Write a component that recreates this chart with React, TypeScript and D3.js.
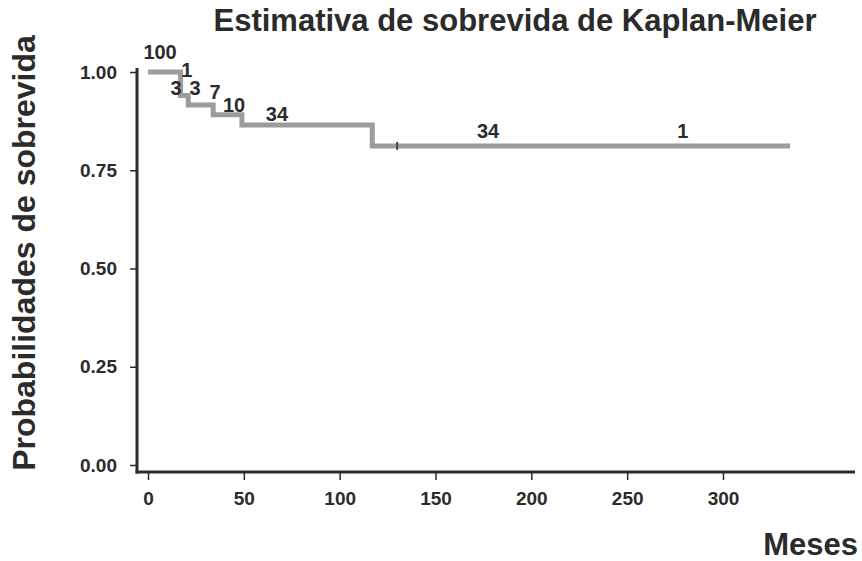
import React, { useEffect, useRef } from 'react';
import * as d3 from 'd3';

// Kaplan-Meier step curve (months, survival probability)
const stepTimes = [0, 17, 21, 34, 49, 117, 335];
const stepProbs = [1.0, 0.94, 0.916, 0.891, 0.865, 0.812, 0.812];

// censored observation marks
const censorTimes = [130];
const censorProbs = [0.812];

// numbers-at-risk annotations
const riskLabels = ['100', '1', '3', '3', '7', '10', '34', '34', '1'];
const riskTimes = [6.3, 20.3, 14.6, 24.5, 35, 44.9, 67.3, 177.4, 279];
const riskProbs = [1.051, 1.005, 0.959, 0.959, 0.949, 0.916, 0.893, 0.85, 0.85];

const xTicks = [0, 50, 100, 150, 200, 250, 300];
const yTicks = [0, 0.25, 0.5, 0.75, 1.0];

const title = 'Estimativa de sobrevida de Kaplan-Meier';
const xLabel = 'Meses';
const yLabel = 'Probabilidades de sobrevida';

const KaplanMeier = () => {
  const svgRef = useRef<SVGSVGElement>(null);

  useEffect(() => {
    const W = 862;
    const H = 561;
    const font = '"Liberation Sans", Arial, sans-serif';
    const ink = '#2b2b2b';

    const svg = d3.select(svgRef.current);
    svg.selectAll('*').remove();
    svg.attr('width', W).attr('height', H);

    svg.append('rect').attr('width', W).attr('height', H).attr('fill', '#fff');

    const x = d3.scaleLinear().domain([0, 300]).range([148, 723]);
    const y = d3.scaleLinear().domain([0, 1]).range([465, 72]);

    const axisX = 137; // y axis line position
    const axisY = 472; // x axis line position

    // Title
    svg.append('text')
      .attr('x', 515)
      .attr('y', 31)
      .attr('text-anchor', 'middle')
      .attr('font-family', font)
      .attr('font-weight', 'bold')
      .attr('font-size', 31)
      .attr('fill', ink)
      .text(title);

    // y axis
    const gy = svg.append('g').attr('transform', `translate(${axisX},0)`);
    gy.call(d3.axisLeft(y).tickValues(yTicks).tickFormat(d3.format('.2f')).tickSize(7).tickPadding(13));
    gy.select('.domain').remove();
    gy.selectAll('line').attr('stroke', ink).attr('stroke-width', 1.5);
    gy.selectAll('text')
      .attr('font-family', font)
      .attr('font-weight', 'bold')
      .attr('font-size', 19)
      .attr('fill', ink);
    svg.append('line')
      .attr('x1', axisX).attr('x2', axisX)
      .attr('y1', 68).attr('y2', axisY + 1.5)
      .attr('stroke', ink).attr('stroke-width', 3);

    // x axis
    const gx = svg.append('g').attr('transform', `translate(0,${axisY})`);
    gx.call(d3.axisBottom(x).tickValues(xTicks).tickFormat(d3.format('d')).tickSize(8).tickPadding(12));
    gx.select('.domain').remove();
    gx.selectAll('line').attr('stroke', ink).attr('stroke-width', 1.5);
    gx.selectAll('text')
      .attr('font-family', font)
      .attr('font-weight', 'bold')
      .attr('font-size', 19)
      .attr('fill', ink);
    svg.append('line')
      .attr('x1', axisX - 1.5).attr('x2', 855)
      .attr('y1', axisY).attr('y2', axisY)
      .attr('stroke', ink).attr('stroke-width', 3);

    // axis titles
    svg.append('text')
      .attr('x', 858)
      .attr('y', 555)
      .attr('text-anchor', 'end')
      .attr('font-family', font)
      .attr('font-weight', 'bold')
      .attr('font-size', 31)
      .attr('fill', ink)
      .text(xLabel);

    svg.append('text')
      .attr('transform', `translate(35,253)rotate(-90)`)
      .attr('text-anchor', 'middle')
      .attr('font-family', font)
      .attr('font-weight', 'bold')
      .attr('font-size', 32)
      .attr('fill', ink)
      .text(yLabel);

    // survival curve
    const pts = stepTimes.map((t, i) => [t, stepProbs[i]] as [number, number]);
    const line = d3.line<[number, number]>()
      .x(d => x(d[0]))
      .y(d => y(d[1]))
      .curve(d3.curveStepAfter);

    svg.append('path')
      .datum(pts)
      .attr('fill', 'none')
      .attr('stroke', '#9c9c9c')
      .attr('stroke-width', 5)
      .attr('stroke-linejoin', 'miter')
      .attr('d', line);

    // censor marks
    censorTimes.forEach((t, i) => {
      svg.append('line')
        .attr('x1', x(t)).attr('x2', x(t))
        .attr('y1', y(censorProbs[i]) - 4).attr('y2', y(censorProbs[i]) + 4)
        .attr('stroke', '#444')
        .attr('stroke-width', 2);
    });

    // numbers at risk
    riskLabels.forEach((lab, i) => {
      svg.append('text')
        .attr('x', x(riskTimes[i]))
        .attr('y', y(riskProbs[i]))
        .attr('dy', '0.36em')
        .attr('text-anchor', 'middle')
        .attr('font-family', font)
        .attr('font-weight', 'bold')
        .attr('font-size', 20)
        .attr('fill', ink)
        .text(lab);
    });
  }, []);

  return <svg ref={svgRef} style={{ position: 'absolute', left: 0, top: 0, display: 'block' }} />;
};

export default function App() {
  return <KaplanMeier />;
}
